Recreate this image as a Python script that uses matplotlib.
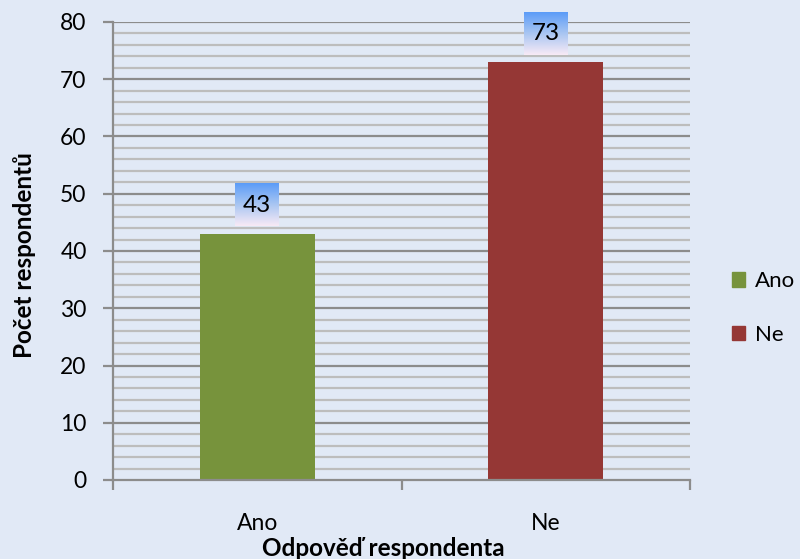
import numpy as np
import matplotlib
matplotlib.use("Agg")
import matplotlib.pyplot as plt
from matplotlib.patches import Patch
from matplotlib.colors import LinearSegmentedColormap

categories = ["Ano", "Ne"]
values = [43, 73]
colors = ["#77933C", "#953735"]
ylabel = "Počet respondentů"
xlabel = "Odpověď respondenta"

plt.rcParams['font.family'] = ['Lato', 'DejaVu Sans']
bg = "#E1E9F6"
fig = plt.figure(figsize=(8, 5.59), dpi=100, facecolor=bg)
ax = fig.add_axes([113/800, 1-480/559, (690-113)/800, (480-22)/559])
ax.set_facecolor(bg)

x = np.arange(len(categories))
ax.bar(x, values, width=0.4, color=colors, zorder=3)
ax.set_xlim(-0.5, 1.5)
ax.set_ylim(0, 80)

# gridlines
for v in np.arange(2, 81, 2):
    if v % 10 == 0:
        ax.axhline(v, color="#8C8C8C", lw=1.6, zorder=1)
    else:
        ax.axhline(v, color="#BDBDBD", lw=1.6, zorder=1)

ax.set_yticks(np.arange(0, 81, 10))
ax.set_xticks([-0.5, 0.5, 1.5], minor=False)
ax.set_xticklabels([])
ax.set_xticks(x, minor=True)
ax.set_xticklabels(categories, minor=True)
ax.tick_params(axis='x', which='minor', length=0, pad=24, labelsize=16.5)
ax.tick_params(axis='x', which='major', length=7, width=1.6, color="#8C8C8C")
ax.tick_params(axis='y', length=7, width=1.6, color="#8C8C8C", pad=12, labelsize=16.5)

for s in ["top", "right"]:
    ax.spines[s].set_visible(False)
for s in ["left", "bottom"]:
    ax.spines[s].set_color("#8C8C8C")
    ax.spines[s].set_linewidth(1.6)
    ax.spines[s].set_zorder(4)

# data labels with gradient boxes
cmap = LinearSegmentedColormap.from_list("g", ["#F8EAF6", "#A9C6F2", "#5C9CF8"])
grad = np.linspace(0, 1, 100).reshape(-1, 1)
for xi, v in zip(x, values):
    ax.imshow(grad, cmap=cmap, origin="lower", aspect="auto",
              extent=[xi - 0.076, xi + 0.076, v + 1.3, v + 8.7],
              zorder=5, clip_on=False)
    ax.text(xi, v + 5.0, str(v), ha="center", va="center", fontsize=17.5, zorder=6)

ax.set_xlabel(xlabel, fontsize=17.5, fontweight="bold")
ax.xaxis.set_label_coords((383-113)/577, -(548-480)/458)
ax.xaxis.label.set_va("center")
ax.set_ylabel(ylabel, fontsize=17.5, fontweight="bold")
ax.yaxis.set_label_coords(-(113-25)/577, (480-255)/458)
ax.yaxis.label.set_va("center")

handles = [Patch(color=c, label=l) for c, l in zip(colors, categories)]
leg = fig.legend(handles=handles, loc="center left", bbox_to_anchor=(732/800, 1-308/559),
                 frameon=False, fontsize=16, handlelength=0.6, handleheight=0.6,
                 labelspacing=1.5, handletextpad=0.45, borderaxespad=0, borderpad=0)

fig.savefig("out.png", dpi=100, facecolor=bg)
